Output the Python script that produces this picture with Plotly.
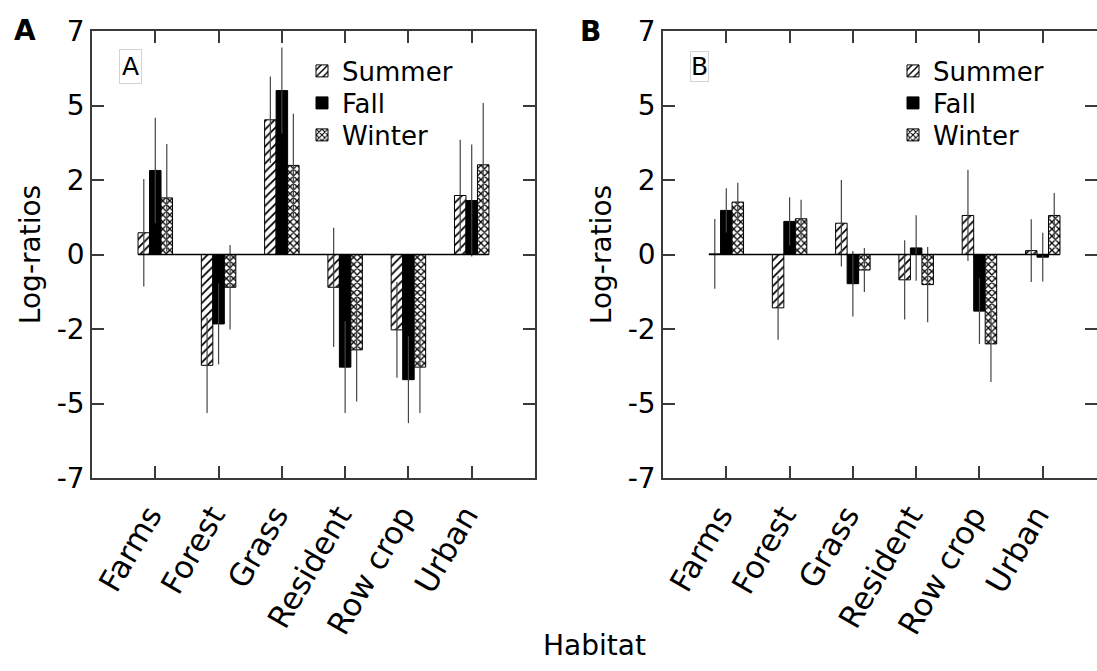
import plotly.graph_objects as go

# ---------------- data ----------------
habitats = ["Farms", "Forest", "Grass", "Resident", "Row crop", "Urban"]
seasons = ["Summer", "Fall", "Winter"]

# Panel A: mean log-ratios and error half-widths
a_summer = [0.73, -3.72, 4.52, -1.10, -2.53, 1.98]
a_summer_err = [1.80, 1.60, 1.45, 2.00, 1.61, 1.87]
a_fall = [2.82, -2.33, 5.50, -3.78, -4.20, 1.81]
a_fall_err = [1.77, 1.36, 1.45, 1.54, 1.46, 1.88]
a_winter = [1.90, -1.10, 2.99, -3.20, -3.78, 3.01]
a_winter_err = [1.81, 1.42, 1.73, 1.73, 1.54, 2.07]

# Panel B
b_summer = [0.02, -1.79, 1.05, -0.85, 1.31, 0.13]
b_summer_err = [1.17, 1.07, 1.45, 1.33, 1.53, 1.05]
b_fall = [1.48, 1.11, -0.98, 0.22, -1.90, -0.09]
b_fall_err = [0.74, 0.81, 1.10, 1.10, 1.10, 0.82]
b_winter = [1.76, 1.20, -0.52, -1.01, -3.00, 1.31]
b_winter_err = [0.65, 0.64, 0.74, 1.26, 1.28, 0.75]

y_tickvals = [-7.5, -5, -2.5, 0, 2.5, 5, 7.5]
y_ticktext = ["-7", "-5", "-2", "0", "2", "5", "7"]

# ---------------- style ----------------
FONT = "DejaVu Sans"
FS = 28
LFS = 26
BARGAP = 0.455
AXCOL = "#3a3a3a"

styles = {
    "Summer": dict(color="white", line=dict(color="black", width=1),
                   pattern=dict(shape="/", fgcolor="black", bgcolor="white", size=6, solidity=0.3)),
    "Fall": dict(color="black", line=dict(color="black", width=1)),
    "Winter": dict(color="white", line=dict(color="black", width=1),
                   pattern=dict(shape="x", fgcolor="black", bgcolor="white", size=5, solidity=0.45)),
}

panels = [
    ("x", "y", [a_summer, a_fall, a_winter], [a_summer_err, a_fall_err, a_winter_err], ["legend", "legend2", "legend3"]),
    ("x2", "y2", [b_summer, b_fall, b_winter], [b_summer_err, b_fall_err, b_winter_err], ["legend4", "legend5", "legend6"]),
]

fig = go.Figure()
for xa, ya, vals, errs, legs in panels:
    for s, v, e, lg in zip(seasons, vals, errs, legs):
        fig.add_trace(go.Bar(
            x=habitats, y=v, name=s, xaxis=xa, yaxis=ya, legend=lg, showlegend=True,
            marker=styles[s],
            error_y=dict(type="data", array=e, symmetric=True, width=0, thickness=1.2, color="#444"),
        ))

# baseline from first to last bar
gw = 1 - BARGAP
for xr, yr in [("x", "y"), ("x2", "y2")]:
    fig.add_shape(type="line", xref=xr, yref=yr, x0=-gw / 2, x1=len(habitats) - 1 + gw / 2,
                  y0=0, y1=0, line=dict(color="black", width=1.5))

W, H = 1097, 671
ydom = [1 - 478 / H, 1 - 31 / H]

common_x = dict(showline=True, linecolor=AXCOL, linewidth=1.5, mirror="ticks", ticks="inside",
                ticklen=12, tickwidth=1.5, tickcolor=AXCOL, tickangle=-60, automargin=False,
                ticklabelshift=-6, ticklabelstandoff=5,
                tickfont=dict(family=FONT, size=31, color="black"), showgrid=False, zeroline=False)
common_y = dict(showline=True, linecolor=AXCOL, linewidth=1.5, mirror="ticks", ticks="inside",
                ticklen=12, tickwidth=1.5, tickcolor=AXCOL, range=[-7.5, 7.5], automargin=False,
                tickvals=y_tickvals, ticktext=y_ticktext,
                tickfont=dict(family=FONT, size=FS, color="black"), showgrid=False, zeroline=False,
                title=dict(text="Log-ratios", font=dict(family=FONT, size=FS, color="black"), standoff=8))

fig.update_layout(
    template="none",
    width=W, height=H, margin=dict(l=0, r=0, t=0, b=0, autoexpand=False),
    paper_bgcolor="white", plot_bgcolor="white", showlegend=True,
    barmode="group", bargap=BARGAP, bargroupgap=0,
    font=dict(family=FONT, size=FS, color="black"),
    xaxis=dict(domain=[92 / W, 535 / W], range=[-1, 6], anchor="y", **common_x),
    yaxis=dict(domain=ydom, anchor="x", **common_y),
    xaxis2=dict(domain=[663 / W, 1.0], range=[-1, -1 + (W - 663) / 63.29], anchor="y2", **common_x),
    yaxis2=dict(domain=ydom, anchor="x2", **common_y),
)

leg_rows = [1 - 71 / H, 1 - 103 / H, 1 - 135 / H]
for i, lg in enumerate(["legend", "legend2", "legend3", "legend4", "legend5", "legend6"]):
    x0 = 302 / W if i < 3 else 893 / W
    fig.update_layout({lg: dict(x=x0, y=leg_rows[i % 3], xanchor="left", yanchor="middle",
                                bgcolor="rgba(0,0,0,0)", borderwidth=0,
                                font=dict(family=FONT, size=LFS, color="black"))})

# panel letters and shared x title
def note(text, px, py, size, **kw):
    fig.add_annotation(text=text, xref="paper", yref="paper", x=px / W, y=1 - py / H,
                       xanchor="center", yanchor="middle", showarrow=False,
                       font=dict(family=FONT, size=size, color="black"), **kw)

note("<b>A</b>", 24.5, 30, FS)
note("<b>B</b>", 590, 31, FS)
note("A", 130, 66, 25, bordercolor="#d4d4d4", borderwidth=1, borderpad=2)
note("B", 699, 66, 25, bordercolor="#d4d4d4", borderwidth=1, borderpad=0)
note("Habitat", 594, 645, FS)

fig.write_html("out.html")
